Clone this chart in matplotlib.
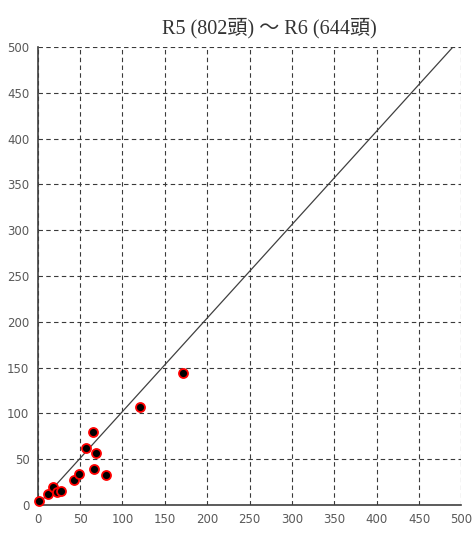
import matplotlib
matplotlib.use("Agg")
import matplotlib.pyplot as plt

title = "R5 (802頭) ～ R6 (644頭)"
x_vals = [2, 12, 18, 23, 27, 43, 49, 57, 65, 69, 66, 80, 121, 172]
y_vals = [4, 12, 20, 14, 15, 27, 34, 62, 80, 57, 39, 33, 107, 144]
diag_x = [0, 490]
diag_y = [0, 500]
ticks = [0, 50, 100, 150, 200, 250, 300, 350, 400, 450, 500]

fig = plt.figure(figsize=(4.72, 5.34), dpi=100)
ax = fig.add_axes([0.0799, 0.0543, 0.8977, 0.8577])
ax.set_xlim(0, 500)
ax.set_ylim(0, 500)
ax.set_xticks(ticks)
ax.set_yticks(ticks)
ax.tick_params(length=0, labelsize=8.5, labelcolor="#595959", pad=6)
ax.grid(True, color="#3a3a3a", linestyle=(0, (4, 3)), linewidth=0.8)
ax.set_axisbelow(True)
for s in ["top", "right"]:
    ax.spines[s].set_visible(False)
for s in ["left", "bottom"]:
    ax.spines[s].set_color("#404040")
    ax.spines[s].set_linewidth(1.2)

ax.plot(diag_x, diag_y, color="#404040", linewidth=0.9, zorder=2)
ax.scatter(x_vals, y_vals, s=42, facecolor="black", edgecolor="red", linewidth=1.3, zorder=3, clip_on=False)

fig.text(0.57, 0.948, title, ha="center", va="center", fontsize=14.5,
         family=["Liberation Serif", "Noto Sans CJK JP"], color="#333333")

fig.savefig("out.png", dpi=100)
